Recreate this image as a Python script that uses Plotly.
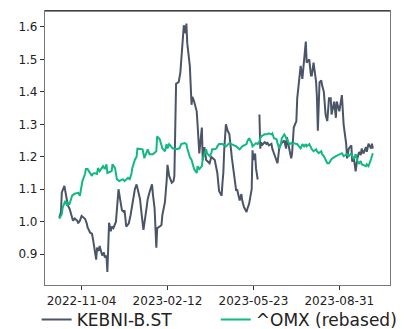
import pandas as pd
import plotly.graph_objects as go

start_date = "2022-10-09"

kebni_days = [0,2,3,6,8,10,12,15,16,18,21,22,24,26,27,30,32,33,36,38,39,40,43,44,46,47,50,52,53,55,56,58,60,61,63,66,68,69,72,73,75,76,78,81,83,85,88,90,92,94,96,98,101,102,103,105,108,109,111,113,114,117,119,120,123,125,126,128,131,133,134,136,139,141,142,144,145,147,148,149,152,154,155,157,160,161,163,166,167,169,171,175,177,181,184,186,189,190,191,192,194,196,198,201,204,206,207,210,212,213,215,218,219,221,224,225,226,228,229,231,232,233,234,235,236,239,241,242,244,247,248,250,253,254,256,258,262,264,265,268,270,271,273,276,277,279,281,283,285,287,288,291,293,294,296,299,300,301,303,305,306,308,310,312,314,316,317,320,322,323,326,328,329,331,334,335,337,340,341,343,345,347,349,351,352,354,357,358,360,363,364,365]
kebni_vals = [1.013,1.03,1.09,1.11,1.08,1.05,1.04,1.009,1.003,1.01,1.003,0.995,1.003,1.018,1.015,1.009,0.995,0.982,0.966,0.963,0.951,0.935,0.883,0.92,0.91,0.925,0.896,0.905,0.89,0.895,0.845,0.997,0.97,0.985,0.98,1.0,1.06,1.10,1.05,1.035,1.03,1.035,0.985,0.995,1.02,1.05,1.10,1.115,1.09,1.07,1.02,0.975,1.03,1.05,1.07,1.09,1.115,1.085,1.04,0.92,0.98,0.985,0.99,1.02,1.06,1.125,1.175,1.14,1.12,1.125,1.14,1.425,1.43,1.46,1.50,1.565,1.605,1.58,1.61,1.55,1.48,1.36,1.385,1.37,1.34,1.30,1.21,1.29,1.19,1.23,1.19,1.18,1.20,1.19,1.15,1.095,1.08,1.12,1.15,1.22,1.30,1.28,1.27,1.195,1.135,1.095,1.10,1.065,1.085,1.065,1.045,1.03,1.04,1.055,1.10,1.22,1.19,1.21,1.165,1.13,None,1.33,1.225,1.245,1.235,1.245,1.24,1.245,1.235,1.24,1.225,1.21,1.185,1.18,1.225,1.24,1.25,1.225,1.26,1.225,1.195,1.21,1.29,1.31,1.38,1.43,1.48,1.44,1.50,1.555,1.49,1.50,1.45,1.45,1.49,1.43,1.38,1.28,1.43,1.435,1.42,1.40,1.33,1.31,1.38,1.38,1.33,1.37,1.32,1.37,1.34,1.38,1.39,1.30,1.24,1.195,1.225,1.235,1.185,1.195,1.155,1.195,1.215,1.205,1.225,1.21,1.23,1.215,1.24,1.225,1.24,1.225]

omx_days = [0,3,4,7,9,10,12,15,18,22,24,26,27,30,31,33,36,38,39,41,44,45,47,51,53,55,56,61,62,65,67,70,74,76,80,82,84,85,88,90,91,94,97,99,102,103,105,109,113,114,117,120,123,125,126,128,132,136,140,142,146,148,149,152,154,155,157,160,161,163,166,167,169,171,172,175,177,178,181,183,184,186,190,194,198,201,206,210,213,218,219,221,224,225,229,231,233,235,239,242,244,247,248,250,253,254,256,258,259,262,264,265,268,270,271,273,276,277,279,281,283,285,287,288,291,293,294,296,299,300,302,305,306,308,310,312,314,316,317,322,326,329,331,335,337,340,341,343,345,347,349,351,352,357,358,360,363,364,365]
omx_vals = [1.009,1.024,1.043,1.064,1.049,1.058,1.055,1.080,1.086,1.089,1.080,1.104,1.125,1.147,1.162,1.162,1.150,1.141,1.147,1.150,1.147,1.165,1.156,1.171,1.162,1.177,1.150,1.156,1.177,1.165,1.131,1.125,1.131,1.125,1.135,1.131,1.147,1.165,1.19,1.20,1.225,1.223,1.223,1.196,1.217,1.223,1.208,1.208,1.217,1.263,1.254,1.226,1.217,1.239,1.226,1.239,1.226,1.223,1.226,1.239,1.242,1.239,1.226,1.199,1.19,1.18,1.162,1.150,1.171,1.162,1.171,1.193,1.211,1.223,1.211,1.202,1.211,1.223,1.223,1.226,1.232,1.239,1.239,1.232,1.242,1.239,1.232,1.223,1.232,1.239,1.248,1.257,1.242,1.232,1.242,1.239,1.248,1.263,1.269,1.269,1.272,1.269,1.272,1.257,1.254,1.242,1.226,1.239,1.257,1.269,1.257,1.254,1.239,1.242,1.239,1.242,1.239,1.239,1.232,1.226,1.239,1.232,1.239,1.232,1.239,1.226,1.223,1.217,1.223,1.217,1.211,1.217,1.208,1.202,1.193,1.180,1.180,1.187,1.193,1.202,1.208,1.211,1.202,1.208,1.202,1.211,1.202,1.193,1.208,1.187,1.180,1.187,1.177,1.171,1.177,1.171,1.193,1.208,1.211]

tick_dates = ["2022-11-04", "2023-02-12", "2023-05-23", "2023-08-31"]
y_ticks = [0.9, 1.0, 1.1, 1.2, 1.3, 1.4, 1.5, 1.6]

t0 = pd.Timestamp(start_date)
kebni_x = [t0 + pd.Timedelta(days=d) for d in kebni_days]
omx_x = [t0 + pd.Timedelta(days=d) for d in omx_days]

fig = go.Figure()
fig.add_trace(go.Scatter(x=kebni_x, y=kebni_vals, mode="lines", name="KEBNI-B.ST",
                         line=dict(color="#4a5568", width=2), connectgaps=False,
                         legend="legend"))
fig.add_trace(go.Scatter(x=omx_x, y=omx_vals, mode="lines", name="^OMX (rebased)",
                         line=dict(color="#10b981", width=2), legend="legend2"))

font_family = "DejaVu Sans"
legend_common = dict(orientation="h", xref="container", yref="container",
                     xanchor="left", y=0.028, yanchor="middle",
                     font=dict(size=17, color="#222222"), bgcolor="rgba(0,0,0,0)")
fig.update_layout(
    width=409, height=321,
    margin=dict(l=37, r=27, t=3, b=44, autoexpand=False),
    paper_bgcolor="white", plot_bgcolor="white",
    font=dict(family=font_family, size=12, color="#222222"),
    showlegend=True,
    legend=dict(x=0.07, **legend_common),
    legend2=dict(x=0.508, **legend_common),
    xaxis=dict(type="date", range=["2022-09-22 10:00", "2023-10-29"],
               tickvals=tick_dates, ticktext=tick_dates,
               showgrid=False, zeroline=False, showline=True, linecolor="#777777", linewidth=1.2,
               mirror=True, ticks="outside", ticklen=4, tickcolor="#333333",
               tickfont=dict(size=12, color="#222222")),
    yaxis=dict(range=[0.805, 1.649], tickvals=y_ticks, tickformat=".1f",
               showgrid=False, zeroline=False, showline=True, linecolor="#777777", linewidth=1.2,
               mirror=True, ticks="outside", ticklen=4, tickcolor="#333333",
               tickfont=dict(size=12, color="#222222")),
    shapes=[dict(type="line", xref="paper", yref="paper", x0=0, x1=1, y0=1, y1=1,
                 line=dict(color="#111111", width=1.2))],
)

fig.write_html("out.html")
